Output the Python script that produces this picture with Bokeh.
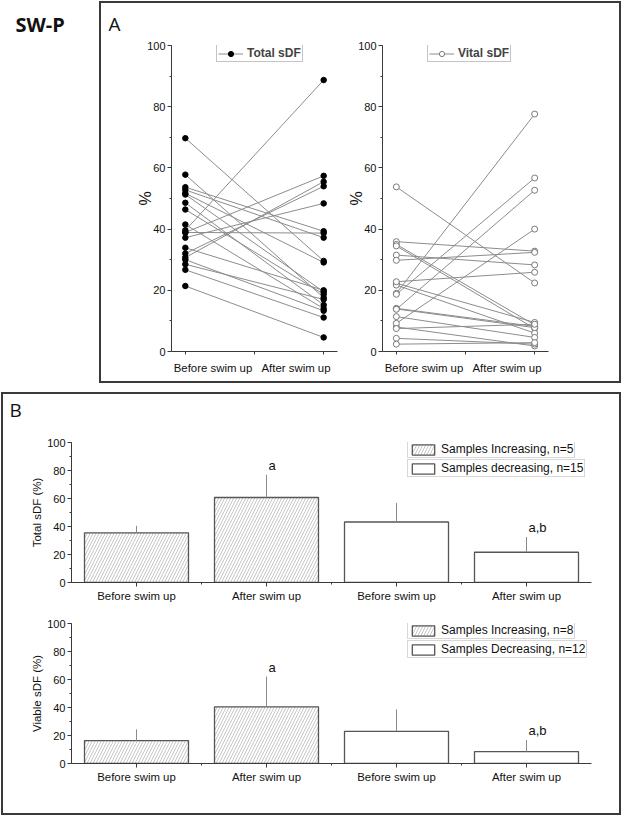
from bokeh.plotting import figure
from bokeh.models import (Range1d, FixedTicker, SingleIntervalTicker, Legend,
                          LegendItem, Label)
from bokeh.layouts import row, column
from bokeh.models import Spacer
from bokeh.embed import file_html
from bokeh.resources import INLINE

# ---------------- data ----------------
# Panel A: individual samples (before -> after swim up)
total_before = [69.7, 57.8, 53.7, 52.8, 51.7, 51.3, 48.6, 46.4, 41.5, 39.6,
                38.9, 38.9, 37.2, 33.9, 32.0, 30.7, 30.0, 28.5, 26.7, 21.4]
total_after = [29.6, 17.6, 39.3, 37.2, 29.1, 19.5, 15.2, 18.7, 14.0, 88.7,
               57.4, 38.7, 48.4, 20.0, 54.0, 55.5, 13.3, 17.0, 11.1, 4.6]
vital_before = [53.8, 35.9, 35.0, 34.5, 31.5, 22.3, 21.7, 14.1, 13.9, 11.4,
                8.0, 4.3, 29.8, 22.8, 19.0, 18.7, 13.8, 9.2, 7.5, 2.4]
vital_after = [22.4, 32.8, 8.7, 7.5, 28.3, 9.5, 6.0, 8.2, 7.8, 4.6,
               1.8, 2.4, 32.4, 25.9, 77.6, 56.7, 52.7, 40.0, 8.9, 2.9]
stage_labels = ["Before swim up", "After swim up"]

# Panel B: group means and SD
bar_labels = ["Before swim up", "After swim up", "Before swim up", "After swim up"]
total_inc_mean = [35.5, 60.7]
total_inc_sd = [5.0, 16.3]
total_dec_mean = [43.2, 21.6]
total_dec_sd = [13.7, 10.9]
total_sig = ["", "a", "", "a,b"]
viable_inc_mean = [16.4, 40.5]
viable_inc_sd = [8.0, 21.6]
viable_dec_mean = [23.0, 8.5]
viable_dec_sd = [15.6, 8.3]
viable_sig = ["", "a", "", "a,b"]
total_legend = ["Samples Increasing, n=5", "Samples decreasing, n=15"]
viable_legend = ["Samples Increasing, n=8", "Samples Decreasing, n=12"]

FONT = "Liberation Sans"
AXC = "#3a3a3a"


def style_y(p, label, label_size, standoff, tick_size):
    ax = p.yaxis[0]
    ax.ticker = SingleIntervalTicker(interval=20, num_minor_ticks=2)
    ax.axis_label = label
    ax.axis_label_text_font = FONT
    ax.axis_label_text_font_size = label_size
    ax.axis_label_text_font_style = "normal"
    ax.axis_label_text_color = "#111111"
    ax.axis_label_standoff = standoff
    ax.major_label_text_font = FONT
    ax.major_label_text_font_size = tick_size
    ax.major_label_text_color = "#111111"
    ax.major_label_standoff = 2
    ax.axis_line_color = AXC
    ax.major_tick_line_color = AXC
    ax.minor_tick_line_color = AXC
    ax.major_tick_out = 4
    ax.major_tick_in = 0
    ax.minor_tick_out = 2
    ax.minor_tick_in = 0


def base_fig(w, h, xr, bl, br, bt, bb):
    p = figure(width=w, height=h, x_range=Range1d(*xr), y_range=Range1d(0, 100),
               min_border_left=bl, min_border_right=br, min_border_top=bt,
               min_border_bottom=bb, output_backend="svg", toolbar_location=None)
    p.outline_line_color = None
    p.xgrid.visible = False
    p.ygrid.visible = False
    p.background_fill_color = "white"
    p.border_fill_color = "white"
    return p


def text_strip(w, h, text, x, y, size, bold=False):
    # a blank figure whose data range equals its pixel size, holding one label
    s = figure(width=w, height=h, x_range=Range1d(0, w), y_range=Range1d(0, h),
               x_axis_location=None, y_axis_location=None, min_border=0,
               output_backend="svg", toolbar_location=None)
    s.outline_line_color = None
    s.xgrid.visible = False
    s.ygrid.visible = False
    s.add_layout(Label(x=x, y=y, text=text, text_font="Open Sans",
                       text_font_size=size,
                       text_font_style="bold" if bold else "normal",
                       text_baseline="top", text_color="#111111"))
    return s


def panel_a(w, bl, br, before, after, legend_label, filled, corner=None):
    p = base_fig(w, 378, (0.9, 2.1), bl, br, 41, 30)
    xs = [[1, 2] for _ in before]
    ys = [[b, a] for b, a in zip(before, after)]
    lr = p.multi_line(xs=xs, ys=ys, line_color="#8c8c8c", line_width=1)
    px = [1] * len(before) + [2] * len(after)
    py = list(before) + list(after)
    if filled:
        sr = p.scatter(px, py, size=5.5, marker="circle", fill_color="black",
                       line_color="black", line_width=1)
    else:
        sr = p.scatter(px, py, size=6, marker="circle", fill_color="white",
                       line_color="#7a7a7a", line_width=1)
    style_y(p, "%", "16px", -10, "11px")
    xa = p.xaxis[0]
    xa.ticker = FixedTicker(ticks=[1.2, 1.8], minor_ticks=[1, 1.5, 2])
    xa.major_label_overrides = {1.2: stage_labels[0], 1.8: stage_labels[1]}
    xa.major_label_text_font = FONT
    xa.major_label_text_font_size = "11.4px"
    xa.major_label_text_color = "#111111"
    xa.major_label_standoff = 7
    xa.major_tick_out = 0
    xa.major_tick_in = 0
    xa.minor_tick_out = 3
    xa.minor_tick_in = 0
    xa.axis_line_color = AXC
    xa.minor_tick_line_color = AXC
    leg = Legend(items=[LegendItem(label=legend_label, renderers=[lr, sr])],
                 location=(45, 289), margin=0, padding=1, spacing=0,
                 glyph_width=25, glyph_height=13, label_height=13,
                 label_standoff=4, label_text_font=FONT,
                 label_text_font_size="12px", label_text_font_style="bold",
                 border_line_color="#8a8a8a", border_line_width=1,
                 background_fill_color="white", background_fill_alpha=1)
    p.add_layout(leg)
    if corner:
        t = p.title
        t.text = corner
        t.align = "left"
        t.vertical_align = "top"
        t.offset = -(bl - 7)
        t.standoff = 14
        t.text_font = "Open Sans"
        t.text_font_size = "19px"
        t.text_font_style = "normal"
        t.text_color = "#111111"
    return p


def panel_b(h, bt, bb, inc_mean, inc_sd, dec_mean, dec_sd, sig, ylabel,
            legend_labels, leg_y):
    p = base_fig(591, h, (0.5, 4.5), 39, 28, bt, bb)
    inc_r = p.vbar(x=[1, 2], top=inc_mean, width=0.8, bottom=0,
                   fill_color="white", line_color="#555555", line_width=1.3,
                   hatch_pattern="/", hatch_color="#a0a0a0", hatch_scale=6,
                   hatch_weight=0.6)
    dec_r = p.vbar(x=[3, 4], top=dec_mean, width=0.8, bottom=0,
                   fill_color="white", line_color="#555555", line_width=1.3)
    means = list(inc_mean) + list(dec_mean)
    sds = list(inc_sd) + list(dec_sd)
    upper = [m + s for m, s in zip(means, sds)]
    xs = [1, 2, 3, 4]
    p.segment(x0=xs, y0=means, x1=xs, y1=upper, line_color="#8a8a8a",
              line_width=1)
    p.text(x=xs, y=upper, text=sig, text_font={"value": FONT},
           text_font_size="13px", text_align="left", text_baseline="bottom",
           x_offset=2, y_offset=-2, text_color="#111111")
    style_y(p, ylabel, "11.5px", 1, "11px")
    xa = p.xaxis[0]
    xa.ticker = FixedTicker(ticks=[1, 2, 3, 4], minor_ticks=[1.5, 2.5, 3.5])
    xa.major_label_overrides = {i + 1: bar_labels[i] for i in range(4)}
    xa.major_label_text_font = FONT
    xa.major_label_text_font_size = "11.4px"
    xa.major_label_text_color = "#111111"
    xa.major_label_standoff = 3
    xa.major_tick_out = 4
    xa.major_tick_in = 0
    xa.minor_tick_out = 2
    xa.minor_tick_in = 0
    xa.axis_line_color = AXC
    xa.major_tick_line_color = AXC
    xa.minor_tick_line_color = AXC
    for lab, r, y in zip(legend_labels, (inc_r, dec_r), leg_y):
        leg = Legend(items=[LegendItem(label=lab, renderers=[r])],
                     location=(336, y), margin=0, padding=1, spacing=0,
                     glyph_width=28, glyph_height=13, label_height=13,
                     label_standoff=4, label_text_font=FONT,
                     label_text_font_size="12px", label_text_color="#111111",
                     border_line_color="#b0b0b0", border_line_width=1,
                     background_fill_color="white", background_fill_alpha=1)
        p.add_layout(leg)
    return p


swp = text_strip(99, 382, "SW-P", 15, 373, "20px", bold=True)
a1 = panel_a(239, 70, 3, total_before, total_after, "Total sDF", True, "A")
a2 = panel_a(279, 42, 71, vital_before, vital_after, "Vital sDF", False)

b_strip = text_strip(25, 419, "B", 6, 417, "19px")
b1 = panel_b(212, 48, 24, total_inc_mean, total_inc_sd, total_dec_mean,
             total_dec_sd, total_sig, "Total sDF (%)", total_legend, (124, 105))
b2 = panel_b(207, 17, 50, viable_inc_mean, viable_inc_sd, viable_dec_mean,
             viable_dec_sd, viable_sig, "Viable sDF (%)", viable_legend, (124, 105))

box = {"border": "2px solid #3a3a3a"}
panelA = row(a1, a2, styles=box)
panelB = row(b_strip, column(b1, b2), styles=box)
layout = column(Spacer(height=1), row(swp, panelA), Spacer(height=9),
                row(Spacer(width=1), panelB))

open("out.html", "w").write(file_html(layout, INLINE))
